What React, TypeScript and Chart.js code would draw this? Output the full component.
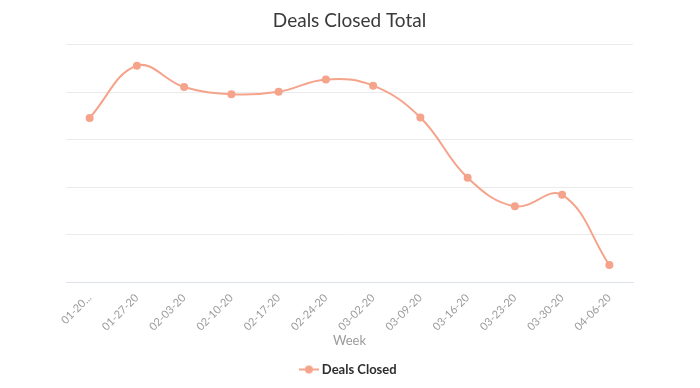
import React, { useEffect, useRef } from "react";
import { Chart, registerables } from "chart.js";

Chart.register(...registerables);

const weeks = [
  "01-20...", "01-27-20", "02-03-20", "02-10-20", "02-17-20", "02-24-20",
  "03-02-20", "03-09-20", "03-16-20", "03-23-20", "03-30-20", "04-06-20",
];
const dealsClosed = [34.6, 45.6, 41.1, 39.6, 40.1, 42.7, 41.4, 34.7, 22.0, 16.0, 18.4, 3.6];
const seriesName = "Deals Closed";
const chartTitle = "Deals Closed Total";
const xTitle = "Week";

const LINE = "#f5a38b";
const FONT = "Lato, 'Open Sans', sans-serif";

function legendMarker(): HTMLCanvasElement {
  const c = document.createElement("canvas");
  c.width = 20;
  c.height = 10;
  const ctx = c.getContext("2d")!;
  ctx.strokeStyle = LINE;
  ctx.lineWidth = 2;
  ctx.beginPath();
  ctx.moveTo(0, 5);
  ctx.lineTo(20, 5);
  ctx.stroke();
  ctx.fillStyle = LINE;
  ctx.beginPath();
  ctx.arc(10, 5, 4, 0, Math.PI * 2);
  ctx.fill();
  return c;
}

export default function App() {
  const ref = useRef<HTMLCanvasElement>(null);
  useEffect(() => {
    if (!ref.current) return;
    const marker = legendMarker();
    const chart = new Chart(ref.current, {
      type: "line",
      data: {
        labels: weeks,
        datasets: [
          {
            label: seriesName,
            data: dealsClosed,
            borderColor: LINE,
            backgroundColor: LINE,
            borderWidth: 2,
            pointRadius: 4,
            pointBackgroundColor: LINE,
            pointBorderWidth: 0,
            tension: 0.4,
            fill: false,
          },
        ],
      },
      options: {
        animation: false,
        responsive: true,
        maintainAspectRatio: false,
        layout: { padding: { left: 66, right: 67, top: 0, bottom: 2 } },
        plugins: {
          title: {
            display: true,
            text: chartTitle,
            color: "#3a3a3a",
            font: { family: FONT, size: 19, weight: "normal" },
            padding: { top: 9, bottom: 13 },
          },
          legend: {
            position: "bottom",
            labels: {
              color: "#2d2d2d",
              font: { family: FONT, size: 13, weight: "bold" },
              usePointStyle: true,
              generateLabels: (ch: any) =>
                ch.data.datasets.map((d: any, i: number) => ({
                  text: d.label,
                  pointStyle: marker,
                  fillStyle: LINE,
                  strokeStyle: LINE,
                  lineWidth: 0,
                  datasetIndex: i,
                  hidden: false,
                  fontColor: "#2d2d2d",
                })),
            },
          },
          tooltip: { enabled: false },
        },
        scales: {
          x: {
            offset: true,
            grid: { display: false },
            border: { display: true, color: "#dde2ea", width: 1 },
            ticks: {
              color: "#9b9b9b",
              font: { family: FONT, size: 11 },
              maxRotation: 45,
              minRotation: 45,
              autoSkip: false,
              padding: 1,
            },
            title: {
              display: true,
              text: xTitle,
              color: "#9b9b9b",
              font: { family: FONT, size: 13 },
              padding: { top: -1, bottom: 4 },
            },
          },
          y: {
            min: 0,
            max: 50,
            ticks: { display: false, stepSize: 10 },
            grid: { color: "#ebebeb", lineWidth: 1, drawTicks: false },
            border: { display: false },
          },
        },
      },
    });
    return () => chart.destroy();
  }, []);
  return (
    <div style={{ position: "fixed", left: 0, top: 0, width: 700, height: 388, background: "#fff" }}>
      <canvas ref={ref} />
    </div>
  );
}
